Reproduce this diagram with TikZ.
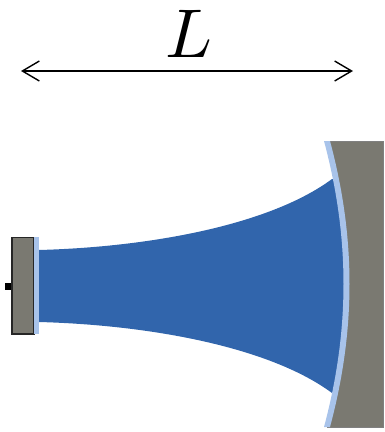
\documentclass[tikz,border=0pt]{standalone}
\usetikzlibrary{arrows.meta}
\definecolor{mirrorgrey}{RGB}{122,121,113}
\definecolor{coating}{RGB}{168,195,234}
\definecolor{beam}{RGB}{49,101,172}
\tikzset{
  dimline/.style={line width=1.4pt,{Straight Barb[length=17pt,width=20pt,line width=1.4pt]}-{Straight Barb[length=17pt,width=20pt,line width=1.4pt]}},
}
\begin{document}
\begin{tikzpicture}[x=1pt,y=-1pt]
\useasboundingbox (0,0) rectangle (385,432);
% dimension
\coordinate (dl) at (21,71);
\coordinate (dr) at (353,71);
\draw[dimline] (dl) -- (dr);
\node[scale=6.9,inner sep=0pt] (len) at (189,33.5) {$L$};
% beam
\fill[beam] (39,250) .. controls (150,247) and (270,225) .. (332,179)
  -- (336,179) .. controls (350,245) and (350,325) .. (336,393) -- (332,393)
  .. controls (270,347) and (150,325) .. (39,322) -- cycle;
% end mirror
\fill[mirrorgrey] (327,141) -- (383,141) -- (383,427) -- (327,427)
  .. controls (354,330) and (354,238) .. (327,141) -- cycle;
\draw[black!50,line width=0.7pt] (327,141) -- (383,141) -- (383,427) -- (327,427);
\fill[coating] (324,141) -- (330,141) .. controls (356,238) and (356,330) .. (330,427)
  -- (324,427) .. controls (350,330) and (350,238) .. (324,141) -- cycle;
% input coupler
\fill[black] (5,283) rectangle (12,290);
\draw[black!85,line width=1.5pt,fill=mirrorgrey] (12,237.5) rectangle (34,334);
\fill[coating] (34,237) rectangle (39,334);
\end{tikzpicture}
\end{document}
